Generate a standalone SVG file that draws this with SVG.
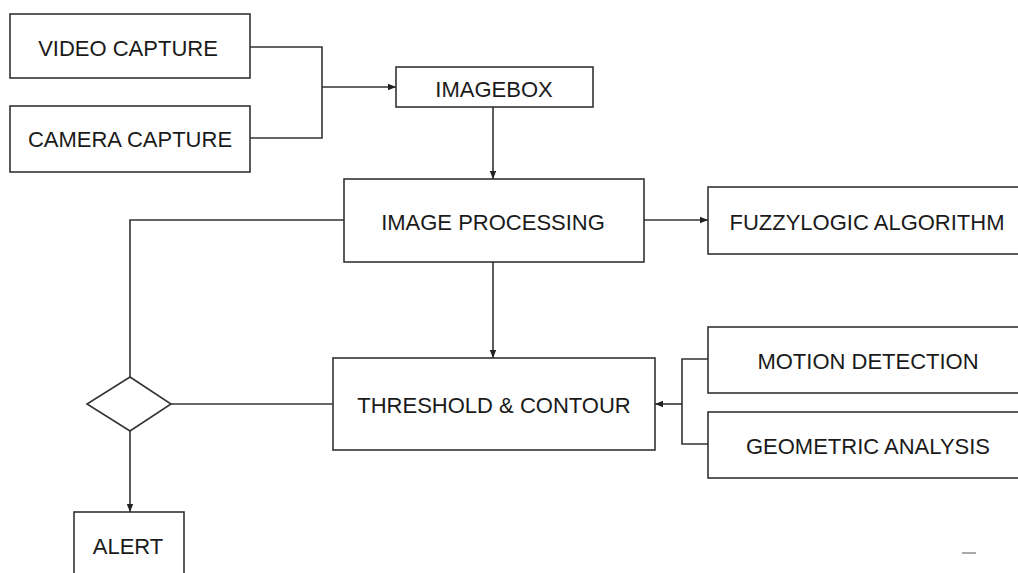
<svg xmlns="http://www.w3.org/2000/svg" width="1018" height="573" viewBox="0 0 1018 573">
<style>
.box{fill:#fff;stroke:#333;stroke-width:1.6}
.lbl{font-family:"Liberation Sans",Arial,sans-serif;font-size:22px;fill:#1a1a1a;text-anchor:middle;dominant-baseline:central}
.con{fill:none;stroke:#333;stroke-width:1.6}
</style>
<defs>
<marker id="arr" viewBox="0 0 10 10" refX="10" refY="5" markerWidth="8" markerHeight="8" markerUnits="userSpaceOnUse" orient="auto">
<path d="M0,1 L10,5 L0,9 Z" fill="#222"/>
</marker>
</defs>
<rect width="1018" height="573" fill="#fff"/>
<g id="connectors">
<polyline class="con" points="250,47 322,47 322,138 250,138"/>
<line class="con" x1="322" y1="87" x2="396" y2="87" marker-end="url(#arr)"/>
<line class="con" x1="493" y1="107" x2="493" y2="179" marker-end="url(#arr)"/>
<line class="con" x1="644" y1="220" x2="708" y2="220" marker-end="url(#arr)"/>
<polyline class="con" points="344,220 130,220 130,377"/>
<line class="con" x1="493" y1="262" x2="493" y2="358" marker-end="url(#arr)"/>
<line class="con" x1="171" y1="404" x2="333" y2="404"/>
<polyline class="con" points="708,359 682,359 682,444 708,444"/>
<line class="con" x1="682" y1="404" x2="655" y2="404" marker-end="url(#arr)"/>
<line class="con" x1="130" y1="431" x2="130" y2="512" marker-end="url(#arr)"/>
</g>
<g id="video-capture"><rect class="box" x="10" y="14" width="240" height="64"/><text class="lbl" x="128" y="48">VIDEO CAPTURE</text></g>
<g id="camera-capture"><rect class="box" x="10" y="106" width="240" height="66"/><text class="lbl" x="130" y="139">CAMERA CAPTURE</text></g>
<g id="imagebox"><rect class="box" x="396" y="67" width="197" height="40"/><text class="lbl" x="494" y="89">IMAGEBOX</text></g>
<g id="image-processing"><rect class="box" x="344" y="179" width="300" height="83"/><text class="lbl" x="493" y="222">IMAGE PROCESSING</text></g>
<g id="fuzzylogic"><rect class="box" x="708" y="187" width="320" height="67"/><text class="lbl" x="867" y="222">FUZZYLOGIC ALGORITHM</text></g>
<g id="decision"><polygon class="box" points="130,377 171,404 130,431 87,404"/></g>
<g id="threshold"><rect class="box" x="333" y="358" width="322" height="92"/><text class="lbl" x="494" y="405">THRESHOLD &amp; CONTOUR</text></g>
<g id="motion-detection"><rect class="box" x="708" y="327" width="320" height="66"/><text class="lbl" x="868" y="361">MOTION DETECTION</text></g>
<g id="geometric-analysis"><rect class="box" x="708" y="412" width="320" height="66"/><text class="lbl" x="868" y="446">GEOMETRIC ANALYSIS</text></g>
<g id="alert"><rect class="box" x="74" y="512" width="110" height="70"/><text class="lbl" x="128" y="546">ALERT</text></g>
<line x1="962" y1="553" x2="976" y2="553" stroke="#aaa" stroke-width="2"/>
</svg>
